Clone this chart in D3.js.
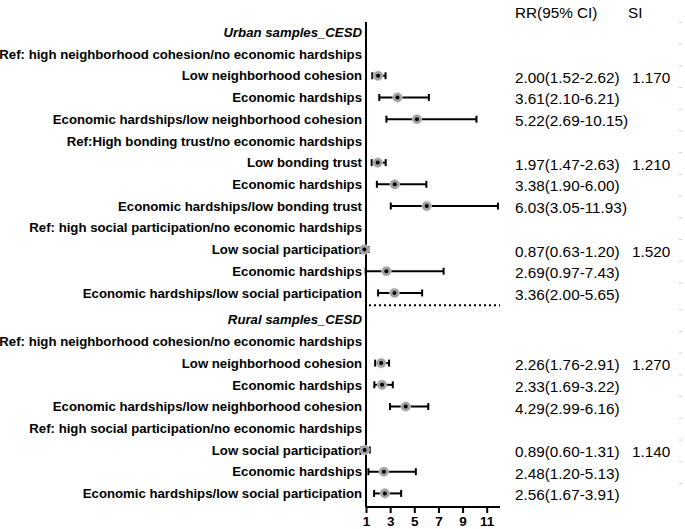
<!DOCTYPE html>
<html>
<head>
<meta charset="utf-8">
<script src="https://cdn.jsdelivr.net/npm/d3@7"></script>
<style>
  html, body { margin: 0; padding: 0; background: #fff; }
  svg { display: block; font-family: "Liberation Sans", Arial, Helvetica, sans-serif; }
</style>
</head>
<body>
<svg id="chart" width="685" height="529"></svg>
<script>
// ---- data ----
const rowLabels = [
  "Urban samples_CESD",
  "Ref: high neighborhood cohesion/no economic hardships",
  "Low neighborhood cohesion",
  "Economic hardships",
  "Economic hardships/low neighborhood cohesion",
  "Ref:High bonding trust/no economic hardships",
  "Low bonding trust",
  "Economic hardships",
  "Economic hardships/low bonding trust",
  "Ref: high social participation/no economic hardships",
  "Low social participation",
  "Economic hardships",
  "Economic hardships/low social participation",
  "Rural samples_CESD",
  "Ref: high neighborhood cohesion/no economic hardships",
  "Low neighborhood cohesion",
  "Economic hardships",
  "Economic hardships/low neighborhood cohesion",
  "Ref: high social participation/no economic hardships",
  "Low social participation",
  "Economic hardships",
  "Economic hardships/low social participation"
];
const headerRows = [0, 13];
const rrValues = [null, null, 2.00, 3.61, 5.22, null, 1.97, 3.38, 6.03, null, 0.87, 2.69, 3.36,
                  null, null, 2.26, 2.33, 4.29, null, 0.89, 2.48, 2.56];
const ciLower  = [null, null, 1.52, 2.10, 2.69, null, 1.47, 1.90, 3.05, null, 0.63, 0.97, 2.00,
                  null, null, 1.76, 1.69, 2.99, null, 0.60, 1.20, 1.67];
const ciUpper  = [null, null, 2.62, 6.21, 10.15, null, 2.63, 6.00, 11.93, null, 1.20, 7.43, 5.65,
                  null, null, 2.91, 3.22, 6.16, null, 1.31, 5.13, 3.91];
const siValues = [null, null, "1.170", null, null, null, "1.210", null, null, null, "1.520", null, null,
                  null, null, "1.270", null, null, null, "1.140", null, null];
const xTicks = [1, 3, 5, 7, 9, 11];
const colHeaders = ["RR(95% CI)", "SI"];

// ---- layout ----
const svg = d3.select("#chart");
const x = d3.scaleLinear().domain([1, 12.1]).range([366, 500]);
const yBase = d3.scaleLinear().domain([0, rowLabels.length - 1]).range([32.3, 32.3 + 21 * 21.72]);
const gapAfter = 13;
const y = i => yBase(i) + (i >= gapAfter ? 5 : 0);
const axisY = 507;

// faint marks at right edge
svg.append("g").selectAll("line").data(d3.range(rowLabels.length)).join("line")
  .attr("x1", 679).attr("x2", 682)
  .attr("y1", i => y(i) - 10).attr("y2", i => y(i) - 10)
  .attr("stroke", "#d0d0d0").attr("stroke-width", 1);

// row labels
svg.append("g").selectAll("text").data(rowLabels).join("text")
  .attr("x", 362)
  .attr("y", (d, i) => y(i) + 4.7)
  .attr("text-anchor", "end")
  .attr("font-size", 13.2)
  .attr("font-weight", "bold")
  .attr("font-style", (d, i) => headerRows.includes(i) ? "italic" : "normal")
  .attr("fill", "#000")
  .text(d => d);

// vertical axis line
svg.append("line")
  .attr("x1", x(1)).attr("x2", x(1))
  .attr("y1", 22).attr("y2", axisY)
  .attr("stroke", "#000").attr("stroke-width", 2);

// x axis
const xAxis = d3.axisBottom(x).tickValues(xTicks).tickSize(6).tickFormat(d3.format("d"));
const gx = svg.append("g").attr("transform", `translate(0,${axisY})`).call(xAxis);
gx.select(".domain").attr("d", `M${x(1)},0H${x(12.1)}`).attr("stroke", "#000").attr("stroke-width", 2);
gx.selectAll(".tick line").attr("stroke", "#000").attr("stroke-width", 2);
gx.selectAll(".tick text")
  .attr("font-size", 13.5).attr("font-weight", "bold")
  .attr("font-family", "'Liberation Sans', Arial, sans-serif")
  .attr("fill", "#000").attr("dy", "0.95em").attr("y", 6);

// dotted separator
const sepY = (y(12) + y(13)) / 2 - 1;
svg.append("line")
  .attr("x1", x(1) + 3).attr("x2", x(12.1))
  .attr("y1", sepY).attr("y2", sepY)
  .attr("stroke", "#000").attr("stroke-width", 2)
  .attr("stroke-dasharray", "2,3");

// error bars + points
const rows = d3.range(rowLabels.length).filter(i => rrValues[i] != null);
const g = svg.append("g");
const capH = 3.5;
rows.forEach(i => {
  const cy = y(i);
  g.append("line").attr("x1", x(ciLower[i])).attr("x2", x(ciUpper[i]))
    .attr("y1", cy).attr("y2", cy).attr("stroke", "#000").attr("stroke-width", 2);
  [ciLower[i], ciUpper[i]].forEach(v => {
    g.append("line").attr("x1", x(v)).attr("x2", x(v))
      .attr("y1", cy - capH).attr("y2", cy + capH)
      .attr("stroke", "#000").attr("stroke-width", 2);
  });
  g.append("circle").attr("cx", x(rrValues[i])).attr("cy", cy).attr("r", 4.8)
    .attr("fill", "#a0a0a0").attr("stroke", "#c8c8c8").attr("stroke-width", 0.8);
  g.append("circle").attr("cx", x(rrValues[i])).attr("cy", cy).attr("r", 2)
    .attr("fill", "#000");
});

// right columns
const f2 = d3.format(".2f");
svg.append("text").attr("x", 515).attr("y", 18).attr("font-size", 15.3).attr("fill", "#000").text(colHeaders[0]);
svg.append("text").attr("x", 628).attr("y", 18).attr("font-size", 15.3).attr("fill", "#000").text(colHeaders[1]);
svg.append("g").selectAll("text").data(rows).join("text")
  .attr("x", 515).attr("y", i => y(i) + 7)
  .attr("font-size", 15.3).attr("fill", "#000")
  .text(i => `${f2(rrValues[i])}(${f2(ciLower[i])}-${f2(ciUpper[i])})`);
svg.append("g").selectAll("text").data(rows.filter(i => siValues[i] != null)).join("text")
  .attr("x", 632).attr("y", i => y(i) + 7)
  .attr("font-size", 15.3).attr("fill", "#000")
  .text(i => siValues[i]);
</script>
</body>
</html>
